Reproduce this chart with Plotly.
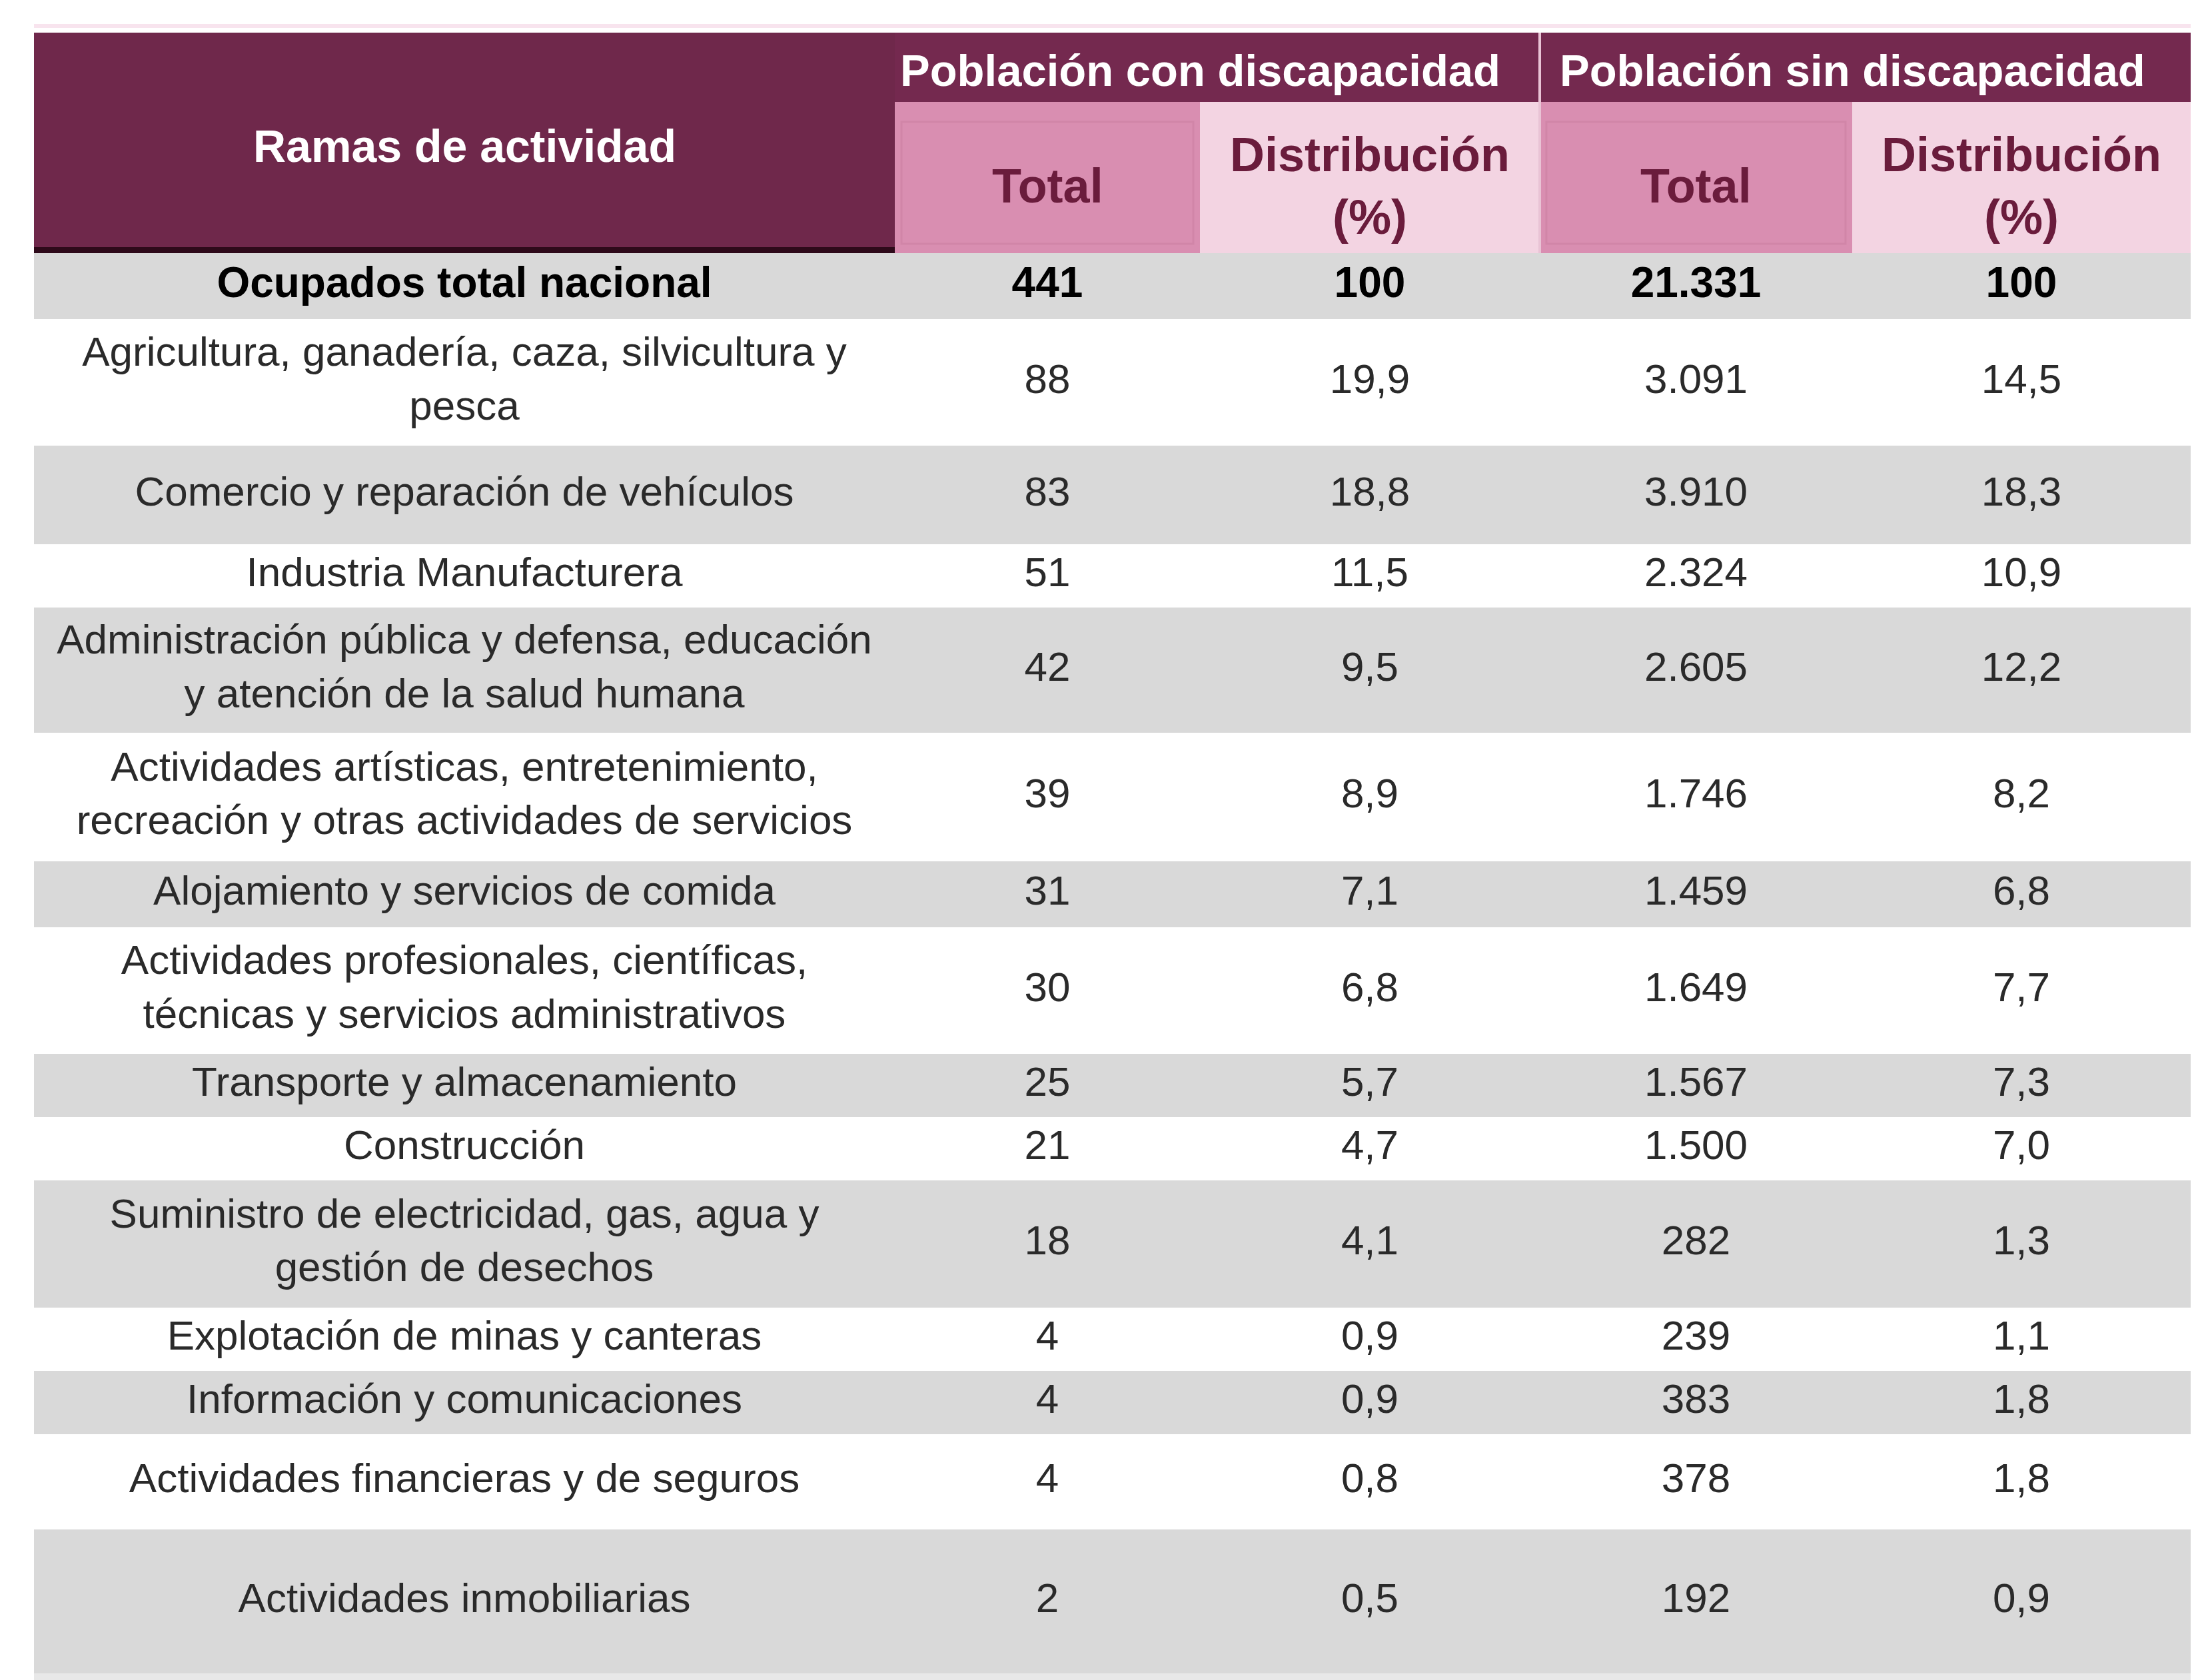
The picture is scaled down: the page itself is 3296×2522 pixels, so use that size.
import plotly.graph_objects as go

# Datos de la tabla
ramas = [
    "Ocupados total nacional",
    "Agricultura, ganadería, caza, silvicultura y<br>pesca",
    "Comercio y reparación de vehículos",
    "Industria Manufacturera",
    "Administración pública y defensa, educación<br>y atención de la salud humana",
    "Actividades artísticas, entretenimiento,<br>recreación y otras actividades de servicios",
    "Alojamiento y servicios de comida",
    "Actividades profesionales, científicas,<br>técnicas y servicios administrativos",
    "Transporte y almacenamiento",
    "Construcción",
    "Suministro de electricidad, gas, agua y<br>gestión de desechos",
    "Explotación de minas y canteras",
    "Información y comunicaciones",
    "Actividades financieras y de seguros",
    "Actividades inmobiliarias",
]
total_con = [441, 88, 83, 51, 42, 39, 31, 30, 25, 21, 18, 4, 4, 4, 2]
dist_con = [100, 19.9, 18.8, 11.5, 9.5, 8.9, 7.1, 6.8, 5.7, 4.7, 4.1, 0.9, 0.9, 0.8, 0.5]
total_sin = [21331, 3091, 3910, 2324, 2605, 1746, 1459, 1649, 1567, 1500, 282, 239, 383, 378, 192]
dist_sin = [100, 14.5, 18.3, 10.9, 12.2, 8.2, 6.8, 7.7, 7.3, 7.0, 1.3, 1.1, 1.8, 1.8, 0.9]

grupos = ["Población con discapacidad", "Población sin discapacidad"]
subcols = ["Total", "Distribución<br>(%)"]

# Geometría (px) y estilos
W, H = 3296, 2522
col_x = [43, 1335, 1793, 2303, 2772, 3280]
head_y = [41, 145, 372]
row_h = [99, 190, 148, 95, 188, 193, 99, 190, 95, 95, 191, 95, 95, 143, 216]

FONT = "Liberation Sans Narrow, Arial Narrow, sans-serif"
DARK = "#6f284b"
GROUP = "#74294f"
PINK = "#d98eb1"
LIGHT_PINK = "#f3d4e2"
GREY = "#d9d9d9"
SUB_TXT = "#6a1c3c"
TXT = "#2a2a2a"


def fmt_total(v):
    return f"{v:,}".replace(",", ".")


def fmt_dist(v):
    if v == 100:
        return "100"
    return f"{v:.1f}".replace(".", ",")


# bordes de filas
edges = [head_y[-1]]
for h in row_h:
    edges.append(edges[-1] + h)
centers = [(a + b) / 2 for a, b in zip(edges[:-1], edges[1:])]
col_c = [(a + b) / 2 for a, b in zip(col_x[:-1], col_x[1:])]

shapes = []

# fondos de filas alternados
for i in range(len(ramas)):
    shapes.append(dict(type="rect", xref="x", yref="y", x0=col_x[0], x1=col_x[-1],
                       y0=edges[i], y1=edges[i + 1], line_width=0,
                       fillcolor=GREY if i % 2 == 0 else "white", layer="below"))
shapes.append(dict(type="rect", xref="x", yref="y", x0=col_x[0], x1=col_x[-1],
                   y0=edges[-1], y1=edges[-1] + 10, line_width=0, fillcolor="#e8e8e8",
                   layer="below"))

# cabecera
shapes.append(dict(type="rect", xref="x", yref="y", x0=col_x[0], x1=col_x[1],
                   y0=head_y[0], y1=head_y[2], line_width=0, fillcolor=DARK, layer="below"))
shapes.append(dict(type="rect", xref="x", yref="y", x0=col_x[0], x1=col_x[1],
                   y0=head_y[2] - 9, y1=head_y[2], line_width=0, fillcolor="#2e0a1a",
                   layer="below"))
for g in range(2):
    x0, x1 = col_x[1 + 2 * g], col_x[3 + 2 * g]
    shapes.append(dict(type="rect", xref="x", yref="y", x0=x0, x1=x1,
                       y0=head_y[0], y1=head_y[1], line_width=0, fillcolor=GROUP,
                       layer="below"))
    shapes.append(dict(type="rect", xref="x", yref="y", x0=x0, x1=col_x[2 + 2 * g],
                       y0=head_y[1], y1=head_y[2], line_width=0, fillcolor=PINK,
                       layer="below"))
    shapes.append(dict(type="rect", xref="x", yref="y", x0=x0 + 10, x1=col_x[2 + 2 * g] - 10,
                       y0=head_y[1] + 30, y1=head_y[2] - 14, line=dict(color="#d185a8", width=3),
                       fillcolor="rgba(0,0,0,0)", layer="below"))
    shapes.append(dict(type="rect", xref="x", yref="y", x0=col_x[2 + 2 * g], x1=x1,
                       y0=head_y[1], y1=head_y[2], line_width=0, fillcolor=LIGHT_PINK,
                       layer="below"))
shapes.append(dict(type="line", xref="x", yref="y", x0=col_x[3], x1=col_x[3],
                   y0=head_y[0], y1=head_y[2], line=dict(color="#e9c3d5", width=4)))
shapes.append(dict(type="line", xref="x", yref="y", x0=col_x[0], x1=col_x[-1],
                   y0=head_y[0] - 10, y1=head_y[0] - 10, line=dict(color="#f8e4ee", width=6)))

annotations = []
annotations.append(dict(x=col_c[0], y=(head_y[0] + head_y[2]) / 2 + 4, text="<b>Ramas de actividad</b>",
                        showarrow=False, xref="x", yref="y",
                        font=dict(family=FONT, size=68, color="white")))
for g, nombre in enumerate(grupos):
    annotations.append(dict(x=col_x[2 + 2 * g], y=(head_y[0] + head_y[1]) / 2 + 4,
                            text=f"<b>{nombre}</b>", showarrow=False, xref="x", yref="y",
                            font=dict(family=FONT, size=67, color="white")))
    for k, sub in enumerate(subcols):
        annotations.append(dict(x=col_c[1 + 2 * g + k], y=(head_y[1] + head_y[2]) / 2 + 12,
                                text=f"<b>{sub}</b>", showarrow=False, xref="x", yref="y",
                                font=dict(family=FONT, size=72, color=SUB_TXT)))

fig = go.Figure()

columnas = [
    ramas,
    [fmt_total(v) for v in total_con],
    [fmt_dist(v) for v in dist_con],
    [fmt_total(v) for v in total_sin],
    [fmt_dist(v) for v in dist_sin],
]
for j, textos in enumerate(columnas):
    textos = [f"<b>{t}</b>" if i == 0 else t for i, t in enumerate(textos)]
    fig.add_trace(go.Scatter(
        x=[col_c[j]] * len(textos), y=centers, mode="text", text=textos,
        textposition="middle center",
        textfont=dict(family=FONT, size=[64] + [62] * (len(textos) - 1),
                      color=["black"] + [TXT] * (len(textos) - 1)),
        hoverinfo="skip", showlegend=False,
    ))

fig.update_layout(
    width=W, height=H,
    margin=dict(l=0, r=0, t=0, b=0),
    paper_bgcolor="white", plot_bgcolor="white",
    shapes=shapes, annotations=annotations,
    xaxis=dict(range=[0, W], visible=False, fixedrange=True),
    yaxis=dict(range=[H, 0], visible=False, fixedrange=True),
)

fig.write_html("out.html")
